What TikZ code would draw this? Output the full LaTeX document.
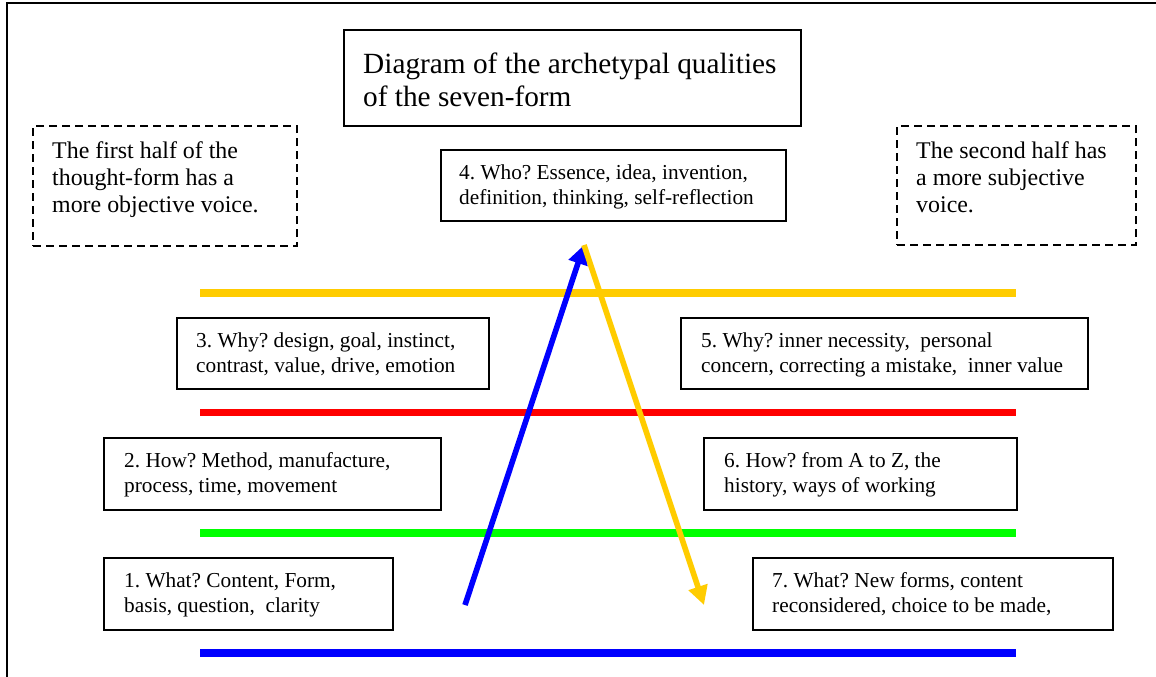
\documentclass[tikz,border=0pt]{standalone}
\usepackage{fontspec}
\setmainfont{Liberation Serif}
\usetikzlibrary{arrows.meta}
\definecolor{cyel}{RGB}{255,204,0}
\definecolor{cred}{RGB}{255,0,0}
\definecolor{cgreen}{RGB}{0,255,0}
\definecolor{cblue}{RGB}{0,0,255}
\tikzset{
  box/.style={draw=black, line width=2pt, rectangle, inner sep=0pt, anchor=north west},
  dbox/.style={box, dash pattern=on 8pt off 5pt},
  txt/.style={inner sep=0pt, align=left, anchor=north west, font=\fontsize{21.3}{25}\selectfont\frenchspacing},
  dtxt/.style={txt, font=\fontsize{23.9}{27.3}\selectfont\frenchspacing},
  ttxt/.style={txt, font=\fontsize{29.3}{33.3}\selectfont\frenchspacing},
  band/.style={line width=7.5pt},
  arr/.style={line width=5.6pt, -{Triangle[length=19pt,width=19pt]}},
}
\newcommand{\ra}{\rule{0pt}{17pt}}
\newcommand{\rd}{\rule{0pt}{19pt}}
\newcommand{\rt}{\rule{0pt}{23pt}}
\begin{document}
\frenchspacing
\begin{tikzpicture}[x=1pt,y=-1pt]
\useasboundingbox (0,0) rectangle (1156,677);
% frame
\draw[line width=2pt] (6.5,677) -- (6.5,3.5) -- (1156,3.5);

% title
\node[box, minimum width=457pt, minimum height=96pt] (title) at (343,29) {};
\node[ttxt] (ttitle) at ([shift={(20pt,-21pt)}]title.north west) {\rt Diagram of the archetypal qualities\\of the seven-form};

% dashed notes
\node[dbox, minimum width=264pt, minimum height=120pt] (left) at (32,125) {};
\node[dtxt] (tleft) at ([shift={(20pt,-14pt)}]left.north west) {\rd The first half of the\\thought-form has a\\more objective voice.};
\node[dbox, minimum width=239pt, minimum height=119pt] (right) at (896,125) {};
\node[dtxt] (tright) at ([shift={(20pt,-14pt)}]right.north west) {\rd The second half has\\a more subjective\\voice.};

% boxes
\node[box, minimum width=345pt, minimum height=71pt] (b4) at (440,149) {};
\node[txt] (t4) at ([shift={(19pt,-13pt)}]b4.north west) {\ra 4. Who? Essence, idea, invention,\\definition, thinking, self-reflection};

\node[box, minimum width=312pt, minimum height=71pt] (b3) at (176,317) {};
\node[txt] (t3) at ([shift={(20pt,-13pt)}]b3.north west) {\ra 3. Why? design, goal, instinct,\\contrast, value, drive, emotion};

\node[box, minimum width=407pt, minimum height=71pt] (b5) at (680,317) {};
\node[txt] (t5) at ([shift={(21pt,-13pt)}]b5.north west) {\ra 5. Why? inner necessity,\ \ personal\\concern, correcting a mistake,\ \ inner value};

\node[box, minimum width=337pt, minimum height=72pt] (b2) at (103,437) {};
\node[txt] (t2) at ([shift={(21pt,-13pt)}]b2.north west) {\ra 2. How? Method, manufacture,\\process, time, movement};

\node[box, minimum width=313pt, minimum height=72pt] (b6) at (703,437) {};
\node[txt] (t6) at ([shift={(21pt,-13pt)}]b6.north west) {\ra 6. How? from A to Z, the\\history, ways of working};

\node[box, minimum width=289pt, minimum height=72pt] (b1) at (103,557) {};
\node[txt] (t1) at ([shift={(21pt,-13pt)}]b1.north west) {\ra 1. What? Content, Form,\\basis, question,\ \ clarity};

\node[box, minimum width=360pt, minimum height=72pt] (b7) at (752,557) {};
\node[txt] (t7) at ([shift={(20pt,-13pt)}]b7.north west) {\ra 7. What? New forms, content\\reconsidered, choice to be made,};

% coloured bands
\draw[band, cyel] (200,293) -- (1016,293);
\draw[band, cred] (200,412.5) -- (1016,412.5);
\draw[band, cgreen] (200,533) -- (1016,533);
\draw[band, cblue] (200,653) -- (1016,653);

% arrows
\coordinate (bstart) at (465,605);
\coordinate (apex) at (584,245);
\coordinate (yend) at (704,605);
\draw[arr, cblue] (bstart) -- (apex);
\draw[arr, cyel] (apex) -- (yend);
\end{tikzpicture}
\end{document}
